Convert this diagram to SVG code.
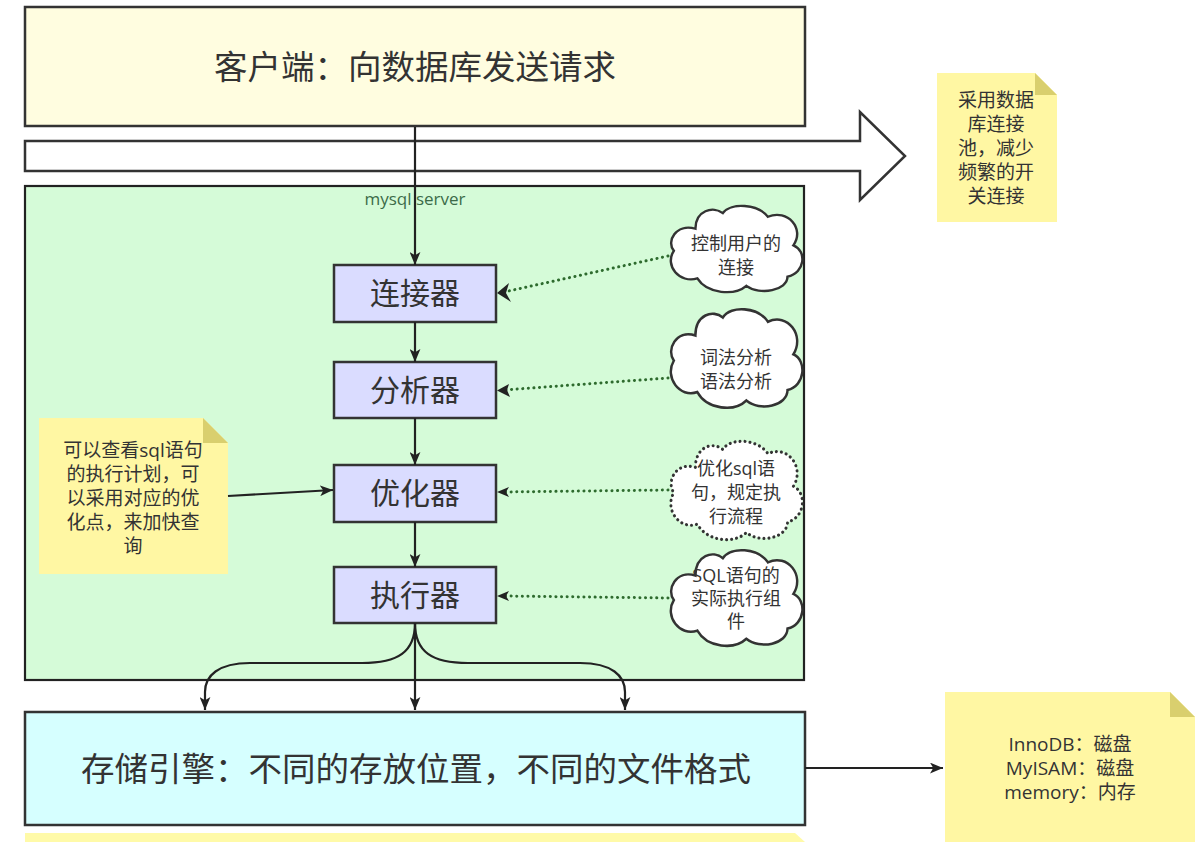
<svg xmlns="http://www.w3.org/2000/svg" xmlns:xlink="http://www.w3.org/1999/xlink" width="1195" height="842" viewBox="0 0 1195 842">
<style>
text{font-family:"Noto Sans CJK SC","Noto Sans",sans-serif;fill:#333;text-anchor:middle}
.big{font-size:33.5px}
.box{fill:#dadcff;stroke:#333;stroke-width:2.5}
.btxt{font-size:30px}
.small{font-size:19px;font-family:"Open Sans","Noto Sans CJK SC",sans-serif}
.ct{font-size:18px;font-family:"Open Sans","Noto Sans CJK SC",sans-serif}
.note{fill:#fff7a3}
.fold{fill:#d9cf6e}
.cloud{fill:#fff;stroke:#333;stroke-width:2.5}
.line{fill:none;stroke:#222;stroke-width:2.2}
.dot{fill:none;stroke:#2e6b2e;stroke-width:3;stroke-dasharray:0.1 5.5;stroke-linecap:round}
</style>
<defs>
<marker id="arr" viewBox="0 0 12 10" refX="12" refY="5" markerWidth="13" markerHeight="11" markerUnits="userSpaceOnUse" orient="auto">
<path d="M0,0 L12,5 L0,10 L3,5 Z" fill="#222"/>
</marker>
<path id="cloudP" d="M 30 28 C 10 22 0 42 8 52 C -2 68 14 88 32 82 C 42 99 70 101 82 90 C 96 101 124 95 124 80 C 142 76 144 52 130 46 C 142 28 124 6 104 15 C 94 1 66 -1 58 11 C 48 3 30 8 30 28 Z"/>
</defs>
<rect width="1195" height="842" fill="#fff"/>

<g id="client">
<rect x="25" y="7" width="780" height="119" fill="#fffde0" stroke="#333" stroke-width="2.5"/>
<text class="big" x="415" y="79">客户端：向数据库发送请求</text>
</g>

<g id="bigArrow">
<path d="M25 141 L860 141 L860 112 L905 156 L860 200 L860 171 L25 171 Z" fill="#fff" stroke="#333" stroke-width="2.5"/>
</g>

<g id="server">
<rect x="25" y="186" width="779" height="494" fill="#d5fbd8" stroke="#222" stroke-width="2.2"/>
<text x="415" y="205" style="font-size:17px;fill:#3c6b48;font-family:'Open Sans',sans-serif">mysql server</text>
</g>

<g id="note-pool">
<path class="note" d="M937 73 L1035 73 L1057 95 L1057 222 L937 222 Z"/>
<path class="fold" d="M1035 73 L1057 95 L1035 95 Z"/>
<text class="small" x="996" y="107">采用数据</text>
<text class="small" x="996" y="131">库连接</text>
<text class="small" x="996" y="155">池，减少</text>
<text class="small" x="996" y="179">频繁的开</text>
<text class="small" x="996" y="203">关连接</text>
</g>

<g id="connector">
<rect class="box" x="334" y="265" width="162" height="57"/>
<text class="btxt" x="415" y="304">连接器</text>
</g>
<g id="parser">
<rect class="box" x="334" y="362" width="162" height="56"/>
<text class="btxt" x="415" y="401">分析器</text>
</g>
<g id="optimizer">
<rect class="box" x="334" y="465" width="162" height="57"/>
<text class="btxt" x="415" y="504">优化器</text>
</g>
<g id="executor">
<rect class="box" x="334" y="567" width="162" height="56"/>
<text class="btxt" x="415" y="606">执行器</text>
</g>

<g id="cloud1">
<use href="#cloudP" class="cloud" transform="translate(666,203) scale(0.98,0.92)"/>
<text class="ct" x="736" y="250">控制用户的</text>
<text class="ct" x="736" y="274">连接</text>
</g>
<g id="cloud2">
<use href="#cloudP" class="cloud" transform="translate(666,306) scale(0.98,1.05)"/>
<text class="ct" x="736" y="364">词法分析</text>
<text class="ct" x="736" y="388">语法分析</text>
</g>
<g id="cloud3">
<use href="#cloudP" class="cloud" transform="translate(666,438) scale(0.98,1.05)" style="stroke-dasharray:0.1 5;stroke-linecap:round;stroke-width:3"/>
<text class="ct" x="736" y="475">优化sql语</text>
<text class="ct" x="736" y="499">句，规定执</text>
<text class="ct" x="736" y="523">行流程</text>
</g>
<g id="cloud4">
<use href="#cloudP" class="cloud" transform="translate(666,547) scale(0.98,1.02)"/>
<text class="ct" x="736" y="582">SQL语句的</text>
<text class="ct" x="736" y="605">实际执行组</text>
<text class="ct" x="736" y="628">件</text>
</g>

<g id="note-explain">
<path class="note" d="M39 418 L203 418 L228 443 L228 574 L39 574 Z"/>
<path class="fold" d="M203 418 L228 443 L203 443 Z"/>
<text class="small" x="133" y="457">可以查看sql语句</text>
<text class="small" x="133" y="481">的执行计划，可</text>
<text class="small" x="133" y="505">以采用对应的优</text>
<text class="small" x="133" y="529">化点，来加快查</text>
<text class="small" x="133" y="553">询</text>
</g>

<g id="storage">
<rect x="25" y="712" width="780" height="113" fill="#d6ffff" stroke="#333" stroke-width="2.5"/>
<text class="big" x="416" y="781">存储引擎：不同的存放位置，不同的文件格式</text>
</g>

<g id="strip">
<path d="M25 833 L795 833 L805 842 L25 842 Z" fill="#fffaa8"/>
</g>

<g id="note-engines">
<path class="note" d="M945 692 L1170 692 L1195 717 L1195 842 L945 842 Z"/>
<path class="fold" d="M1170 692 L1195 717 L1170 717 Z"/>
<text class="small" x="1070" y="751">InnoDB：磁盘</text>
<text class="small" x="1070" y="775">MyISAM：磁盘</text>
<text class="small" x="1070" y="799">memory：内存</text>
</g>

<g id="connectors">
<line class="line" x1="415" y1="127" x2="415" y2="265" marker-end="url(#arr)"/>
<line class="line" x1="415" y1="322" x2="415" y2="362" marker-end="url(#arr)"/>
<line class="line" x1="415" y1="418" x2="415" y2="465" marker-end="url(#arr)"/>
<line class="line" x1="415" y1="522" x2="415" y2="567" marker-end="url(#arr)"/>
<line class="line" x1="228" y1="496" x2="333" y2="490" marker-end="url(#arr)"/>
<line class="dot" x1="668" y1="256" x2="504" y2="292"/>
<path d="M497 293 L509 283 L506 293 L511 302 Z" fill="#222"/>
<line class="dot" x1="668" y1="378" x2="504" y2="390"/>
<path d="M497 390.5 L509 384 L507 390 L510 397 Z" fill="#222"/>
<line class="dot" x1="668" y1="490" x2="504" y2="492"/>
<path d="M497 492 L509 487 L506 492 L509 497 Z" fill="#222"/>
<line class="dot" x1="668" y1="598" x2="504" y2="596"/>
<path d="M497 596 L509 591 L506 596 L509 601 Z" fill="#222"/>
<line class="line" x1="415" y1="623" x2="415" y2="710" marker-end="url(#arr)"/>
<path class="line" d="M415 623 C415 652 398 663 362 663 L250 663 C218 663 205 676 205 692 L205 710" marker-end="url(#arr)"/>
<path class="line" d="M415 623 C415 652 432 663 468 663 L580 663 C612 663 625 676 625 692 L625 710" marker-end="url(#arr)"/>
<line class="line" x1="805" y1="768" x2="943" y2="768" marker-end="url(#arr)"/>
</g>
</svg>
